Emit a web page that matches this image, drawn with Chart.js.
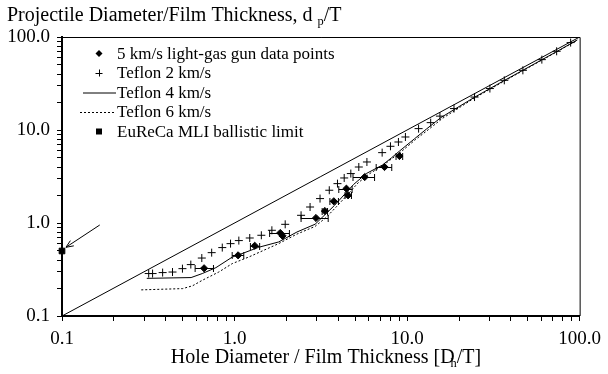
<!DOCTYPE html>
<html>
<head>
<meta charset="utf-8">
<script src="https://cdn.jsdelivr.net/npm/chart.js@4"></script>
<style>
  html, body { margin: 0; padding: 0; background: #ffffff; }
  #wrap { width: 608px; height: 374px; }
</style>
</head>
<body>
<div id="wrap"><canvas id="c" width="608" height="374"></canvas></div>
<script>
// Axis decades and their labels
const decades = [0.1, 1, 10, 100];
const tickLabels = ['0.1', '1.0', '10.0', '100.0'];

// Reference line d/T = D/T
const equalX = [0.1, 100];
const equalY = [0.1, 100];

// 5 km/s light-gas gun data points, with hole-diameter spread
const gunX  = [0.666, 1.049, 1.309, 1.84, 1.897, 2.965, 3.34, 3.76, 4.45, 4.55, 5.68, 7.40, 9.03];
const gunY  = [0.326, 0.449, 0.569, 0.781, 0.728, 1.132, 1.346, 1.712, 2.34, 1.985, 3.12, 4.0, 5.25];
const gunLo = [0.591, 0.969, 1.236, 1.597, 1.897, 2.43, 3.22, 3.57, 4.02, 4.37, 4.86, 6.62, 8.63];
const gunHi = [0.755, 1.131, 1.398, 2.08, 1.897, 3.49, 3.46, 4.0, 4.80, 4.76, 6.48, 8.15, 9.43];

// Teflon 2 km/s
const t2X = [0.318, 0.335, 0.383, 0.437, 0.499, 0.558, 0.646, 0.737, 0.849, 0.948, 1.059, 1.225, 1.43, 1.646,
             1.966, 2.43, 2.74, 3.13, 3.54, 3.95, 4.32, 4.72, 5.25, 5.85, 7.17, 8.01, 8.91, 9.78, 11.66,
             13.7, 15.5, 18.7, 24.6, 30.2, 36.6, 46.9, 60.4, 73.6, 88.7];
const t2Y = [0.286, 0.286, 0.293, 0.297, 0.323, 0.357, 0.42, 0.48, 0.544, 0.60, 0.647, 0.69, 0.738, 0.835,
             0.968, 1.21, 1.486, 1.83, 2.25, 2.65, 3.05, 3.40, 4.0, 4.53, 5.71, 6.68, 7.43, 8.41, 10.35,
             12.0, 14.1, 17.0, 22.6, 27.9, 34.2, 43.8, 57.1, 70.2, 87.1];

// Teflon 4 km/s
const t4X = [0.31, 0.56, 0.65, 0.78, 0.97, 1.13, 1.38, 1.8, 2.3, 2.93, 3.3, 3.8, 4.2, 4.9, 5.8, 7.2, 8.1, 9.0,
             11.0, 13.0, 15.7, 24.4, 36, 47, 60, 74, 97];
const t4Y = [0.254, 0.259, 0.286, 0.331, 0.43, 0.476, 0.548, 0.625, 0.8, 0.97, 1.2, 1.55, 1.9, 2.6, 3.4, 4.2, 5.0, 5.9,
             8.0, 10.3, 13.6, 22.3, 33.5, 44, 56.5, 70, 93];

// Teflon 6 km/s
const t6X = [0.288, 0.5, 0.57, 0.65, 0.81, 0.97, 1.21, 1.8, 2.3, 2.93, 3.4, 3.9, 4.5, 5.2, 6.0, 7.3, 8.2, 9.2,
             11.2, 13.3, 16, 24.5, 36, 47, 60, 74, 97];
const t6Y = [0.191, 0.197, 0.211, 0.242, 0.297, 0.366, 0.431, 0.6, 0.76, 0.92, 1.15, 1.5, 2.0, 2.7, 3.35, 4.2, 4.95, 5.8,
             7.9, 10.1, 13.3, 22, 33, 43.5, 56, 69.5, 92.5];

// EuReCa MLI ballistic limit
const eurecaX = [0.1];
const eurecaY = [0.5];

// Pointer to the EuReCa value (tail, head)
const arrowX = [0.1655, 0.1054];
const arrowY = [0.952, 0.548];

const legendLabels = ['5 km/s light-gas gun data points', 'Teflon 2 km/s', 'Teflon 4 km/s', 'Teflon 6 km/s', 'EuReCa MLI ballistic limit'];

const SERIF = '"Liberation Serif", "Times New Roman", serif';
const pts = (xs, ys) => xs.map((x, i) => ({ x: x, y: ys[i] }));

// minor + major tick values across the three decades
const tickValues = [];
decades.forEach((d, i) => {
  if (i < decades.length - 1) { for (let m = 1; m < 10; m++) tickValues.push(+(d * m).toPrecision(3)); }
  else tickValues.push(d);
});
const tickText = v => { const k = decades.findIndex(d => Math.abs(d - v) < 1e-9); return k >= 0 ? tickLabels[k] : ''; };

function drawRich(ctx, parts, x, y, size) {
  let cx = x;
  parts.forEach(p => {
    const s = p.sub ? size * 0.62 : size;
    ctx.font = s + 'px ' + SERIF;
    const dy = p.sub ? size * 0.22 : 0;
    cx += (p.dx || 0);
    ctx.fillText(p.t, cx, y + dy);
    cx += ctx.measureText(p.t).width;
  });
  return cx - x;
}

const decorations = {
  id: 'decorations',
  afterDatasetsDraw(chart) {
    const ctx = chart.ctx, a = chart.chartArea;
    const xs = chart.scales.x, ys = chart.scales.y;
    ctx.save();
    // thin frame on top and right
    ctx.strokeStyle = '#000'; ctx.lineWidth = 1;
    ctx.beginPath();
    ctx.moveTo(a.left, a.top + 0.5); ctx.lineTo(a.right + 0.5, a.top + 0.5); ctx.lineTo(a.right + 0.5, a.bottom);
    ctx.stroke();

    // horizontal error bars on the gun data
    ctx.lineWidth = 1;
    gunX.forEach((v, i) => {
      if (gunHi[i] - gunLo[i] < 1e-9) return;
      const y = Math.round(ys.getPixelForValue(gunY[i])) + 0.5;
      const l = xs.getPixelForValue(gunLo[i]), r = xs.getPixelForValue(gunHi[i]);
      ctx.beginPath();
      ctx.moveTo(l, y); ctx.lineTo(r, y);
      ctx.moveTo(l, y - 3.5); ctx.lineTo(l, y + 3.5);
      ctx.moveTo(r, y - 3.5); ctx.lineTo(r, y + 3.5);
      ctx.stroke();
    });

    // arrow pointing at the EuReCa value
    const x0 = xs.getPixelForValue(arrowX[0]), y0 = ys.getPixelForValue(arrowY[0]);
    const x1 = xs.getPixelForValue(arrowX[1]), y1 = ys.getPixelForValue(arrowY[1]);
    const ang = Math.atan2(y1 - y0, x1 - x0);
    ctx.beginPath();
    ctx.moveTo(x0, y0); ctx.lineTo(x1, y1);
    ctx.moveTo(x1, y1); ctx.lineTo(x1 - 8 * Math.cos(ang - 0.4), y1 - 8 * Math.sin(ang - 0.4));
    ctx.moveTo(x1, y1); ctx.lineTo(x1 - 8 * Math.cos(ang + 0.4), y1 - 8 * Math.sin(ang + 0.4));
    ctx.stroke();
    ctx.restore();
  },
  afterDraw(chart) {
    const ctx = chart.ctx;
    ctx.save();
    ctx.fillStyle = '#000';
    ctx.textBaseline = 'alphabetic';
    // axis titles
    drawRich(ctx, [{ t: 'Projectile Diameter/Film Thickness, d ' }, { t: 'p', sub: true }, { t: '/T' }], 7, 20.5, 20);
    const xParts = [{ t: 'Hole Diameter / Film Thickness [D' }, { t: 'h', sub: true, dx: -4 }, { t: '/T]' }];
    // measure for centring
    let w = 0;
    xParts.forEach(p => { ctx.font = (p.sub ? 20 * 0.62 : 20) + 'px ' + SERIF; w += ctx.measureText(p.t).width + (p.dx || 0); });
    drawRich(ctx, xParts, 326 - w / 2, 363, 20);

    // legend
    const rowY = [53.5, 73, 92.5, 112, 131.5];
    const mx = 99;
    ctx.strokeStyle = '#000'; ctx.lineWidth = 1;
    // diamond
    ctx.beginPath();
    ctx.moveTo(mx, rowY[0] - 3.5); ctx.lineTo(mx + 3.5, rowY[0]); ctx.lineTo(mx, rowY[0] + 3.5); ctx.lineTo(mx - 3.5, rowY[0]);
    ctx.closePath(); ctx.fill();
    // cross
    ctx.beginPath();
    ctx.moveTo(mx - 3.5, rowY[1] + 0.5); ctx.lineTo(mx + 3.5, rowY[1] + 0.5);
    ctx.moveTo(mx + 0.5, rowY[1] - 3.5); ctx.lineTo(mx + 0.5, rowY[1] + 3.5);
    ctx.stroke();
    // solid line
    ctx.beginPath(); ctx.moveTo(83, rowY[2] + 0.5); ctx.lineTo(116, rowY[2] + 0.5); ctx.stroke();
    // dotted line
    ctx.setLineDash([2, 2]);
    ctx.beginPath(); ctx.moveTo(80, rowY[3] + 0.5); ctx.lineTo(115, rowY[3] + 0.5); ctx.stroke();
    ctx.setLineDash([]);
    // square
    ctx.fillRect(mx - 3, rowY[4] - 3, 6, 6);

    ctx.font = '17px ' + SERIF;
    ctx.textBaseline = 'middle';
    legendLabels.forEach((s, i) => ctx.fillText(s, 117, rowY[i] + 1));
    ctx.restore();
  }
};

const logAxis = (extra) => Object.assign({
  type: 'logarithmic',
  min: 0.1,
  max: 100,
  afterBuildTicks: s => { s.ticks = tickValues.map(v => ({ value: v })); },
  grid: { display: true, drawOnChartArea: false, drawTicks: true, tickLength: 5, color: '#000', tickColor: '#000', lineWidth: 1 },
  border: { display: true, color: '#000', width: 2 },
  ticks: {
    autoSkip: false, maxRotation: 0, minRotation: 0, padding: 7, color: '#000',
    font: { family: SERIF, size: 19 },
    callback: v => tickText(v)
  }
}, extra);

new Chart(document.getElementById('c'), {
  type: 'scatter',
  data: {
    datasets: [
      { label: 'equal', data: pts(equalX, equalY), showLine: true, borderColor: '#000', borderWidth: 1, pointRadius: 0 },
      { label: legendLabels[3], data: pts(t6X, t6Y), showLine: true, borderColor: '#000', borderWidth: 1, borderDash: [2, 2], pointRadius: 0, tension: 0 },
      { label: legendLabels[2], data: pts(t4X, t4Y), showLine: true, borderColor: '#000', borderWidth: 1, pointRadius: 0, tension: 0 },
      { label: legendLabels[1], data: pts(t2X, t2Y), showLine: false, pointStyle: 'cross', pointRadius: 4, borderColor: '#000', backgroundColor: '#000', pointBorderWidth: 1 },
      { label: legendLabels[0], data: pts(gunX, gunY), showLine: false, pointStyle: 'rectRot', pointRadius: 3.6, borderColor: '#000', backgroundColor: '#000', pointBorderWidth: 1 },
      { label: legendLabels[4], data: pts(eurecaX, eurecaY), showLine: false, pointStyle: 'rect', pointRadius: 4, borderColor: '#000', backgroundColor: '#000', pointBorderWidth: 1, clip: false }
    ]
  },
  options: {
    responsive: false,
    animation: false,
    devicePixelRatio: 1,
    layout: { padding: { top: 37, right: 25, left: 0, bottom: 0 } },
    plugins: { legend: { display: false }, tooltip: { enabled: false }, title: { display: false } },
    scales: {
      x: logAxis({ position: 'bottom', afterFit: s => { s.height = 58; } }),
      y: logAxis({ position: 'left', afterFit: s => { s.width = 62; } })
    }
  },
  plugins: [decorations]
});
</script>
</body>
</html>
